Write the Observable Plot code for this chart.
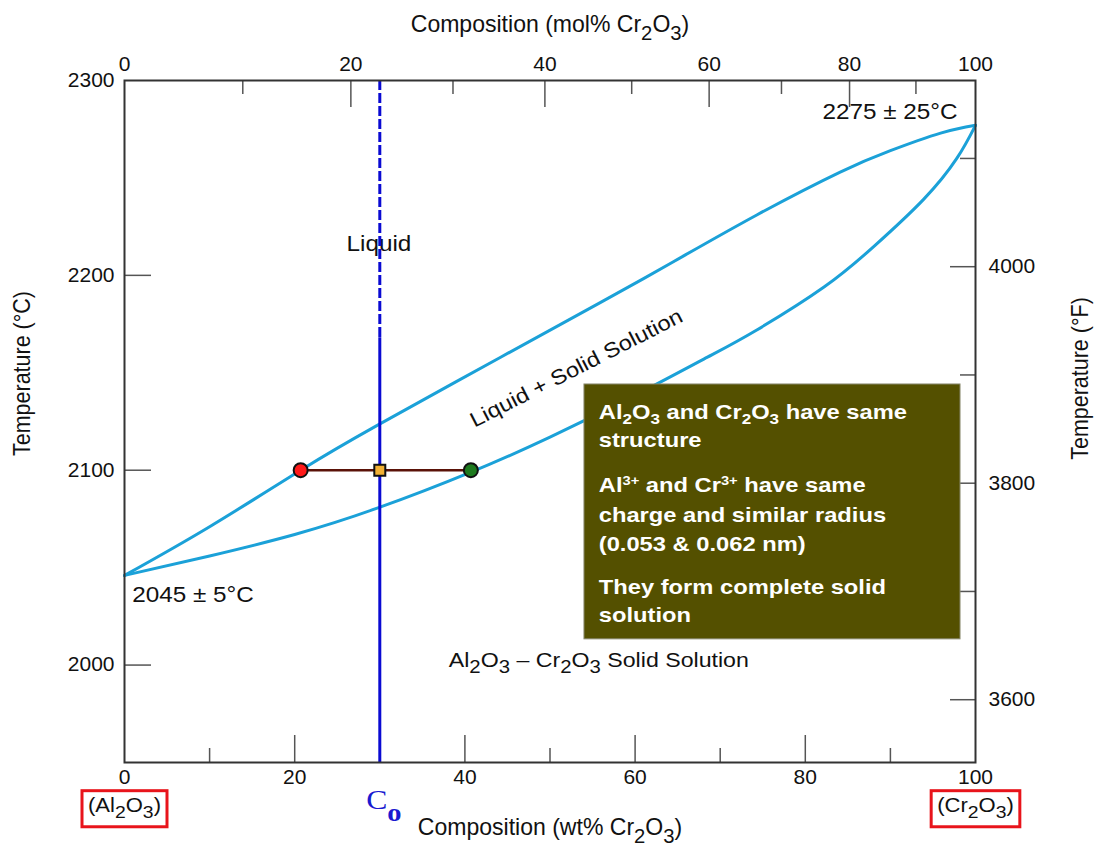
<!DOCTYPE html>
<html><head><meta charset="utf-8">
<script src="https://cdn.jsdelivr.net/npm/d3@7"></script>
<script src="https://cdn.jsdelivr.net/npm/@observablehq/plot@0.6"></script>
<style>
html,body{margin:0;padding:0;background:#fff;}
#chart svg{display:block;}
</style></head>
<body><div id="chart"></div>
<script>
// ---- data ----
const liquidusWt = [0, 10, 20.7, 29.7, 44.2, 55.9, 64.5, 74.3, 84.1, 90.0, 95.9, 100];
const liquidusT  = [2046, 2071, 2100, 2123, 2158, 2186, 2207, 2231, 2253, 2264, 2273, 2277];
const solidusWt  = [0, 10, 20, 29.7, 40.7, 50, 59.8, 68.5, 74.3, 82.2, 88.1, 93.9, 97.8, 100];
const solidusT   = [2046, 2056, 2067, 2080.5, 2099, 2117, 2138, 2158, 2172, 2194, 2215, 2239, 2260, 2277];
const Co = 30;
const coDashEnd = 2168;
const tieWt = [20.7, 40.7];
const tieT = 2100;
const wtMajor = [0, 20, 40, 60, 80, 100];
const wtMinor = [10, 30, 50, 70, 90];
const molLabels = [0, 20, 40, 60, 80, 100];
const molLabelWt = [0, 26.6, 49.4, 68.7, 85.2, 100];
const molMinorWt = [13.9, 38.6, 59.6, 77.2, 93.0];
const tempCTicks = [2000, 2100, 2200, 2300];
const tempFTicks = [3600, 3700, 3800, 3900, 4000, 4100];
const tempFLabels = [3600, 3800, 4000];
const boxLines = [
  "Al_s{2}O_s{3} and Cr_s{2}O_s{3} have same",
  "structure",
  "Al^{3+} and Cr^{3+} have same",
  "charge and similar radius",
  "(0.053 & 0.062 nm)",
  "They form complete solid",
  "solution"
];
const boxLineT = [2129.8, 2115.3, 2092.2, 2076.8, 2062.2, 2040.0, 2025.4];

// ---- derived tables ----
const toC = f => (f - 32) * 5 / 9;
const liq = liquidusWt.map((w, i) => ({w, t: liquidusT[i]}));
const sol = solidusWt.map((w, i) => ({w, t: solidusT[i]}));
const boxData = boxLines.map((s, i) => ({s, t: boxLineT[i]}));

const W = 1095, H = 850, mL = 124, mR = 120, mT = 80, mB = 88;
const innerW = W - mL - mR, innerH = H - mT - mB;
const SANS = "'Liberation Sans', Arial, Helvetica, sans-serif";
const tickCol = "#555";
const curveCol = "#1ba1d8";
const ann = 21.5;

const plot = Plot.plot({
  width: W, height: H,
  marginLeft: mL, marginRight: mR, marginTop: mT, marginBottom: mB,
  x: {domain: [0, 100]},
  y: {domain: [1950, 2300]},
  style: {fontFamily: SANS, fontSize: "19px", color: "#111", background: "white", overflow: "visible"},
  marks: [
    // ticks (inward)
    Plot.tickX(wtMajor.slice(1, -1), {insetTop: innerH - 27, stroke: tickCol, strokeWidth: 1.5}),
    Plot.tickX(wtMinor, {insetTop: innerH - 14, stroke: tickCol, strokeWidth: 1.5}),
    Plot.tickX(molLabelWt.slice(1, -1), {insetBottom: innerH - 27, stroke: tickCol, strokeWidth: 1.5}),
    Plot.tickX(molMinorWt, {insetBottom: innerH - 14, stroke: tickCol, strokeWidth: 1.5}),
    Plot.tickY(tempCTicks.slice(0, 3), {insetRight: innerW - 27, stroke: tickCol, strokeWidth: 1.5}),
    Plot.tickY(tempFLabels.map(toC), {insetLeft: innerW - 25, stroke: tickCol, strokeWidth: 1.5}),
    Plot.tickY(tempFTicks.filter(f => !tempFLabels.includes(f)).map(toC), {insetLeft: innerW - 15, stroke: tickCol, strokeWidth: 1.5}),
    // axes (labels only)
    Plot.axisX(wtMajor, {anchor: "bottom", tickSize: 0, tickPadding: 7, fontSize: 20, label: null, tickFormat: d => String(d)}),
    Plot.axisX(molLabelWt, {anchor: "top", tickSize: 0, tickPadding: 10, fontSize: 20, label: null,
      tickFormat: d => String(molLabels[molLabelWt.indexOf(d)])}),
    Plot.axisY(tempCTicks, {anchor: "left", tickSize: 0, tickPadding: 10, fontSize: 20, label: null, tickFormat: d => String(d)}),
    Plot.axisY(tempFLabels.map(toC), {anchor: "right", tickSize: 0, tickPadding: 13, fontSize: 20, label: null,
      tickFormat: d => String(Math.round(d * 9 / 5 + 32))}),
    // axis titles
    Plot.text(["Composition (mol% Cr_{2}O_{3})"], {frameAnchor: "top", dy: -66, fontSize: 24}),
    Plot.text(["Composition (wt% Cr_{2}O_{3})"], {frameAnchor: "bottom", dy: 72, fontSize: 24}),
    Plot.text(["Temperature (°C)"], {frameAnchor: "left", textAnchor: "middle", rotate: -90, dx: -102, dy: -48, fontSize: 21.5}),
    Plot.text(["Temperature (°F)"], {frameAnchor: "right", textAnchor: "middle", rotate: -90, dx: 105, dy: -43, fontSize: 21.5}),
    // end-member labels
    Plot.text(["(Al_{2}O_{3})"], {x: [0], frameAnchor: "bottom", dy: 49, fontSize: 19.5}),
    Plot.text(["(Cr_{2}O_{3})"], {x: [100], frameAnchor: "bottom", dy: 49, fontSize: 19.5}),
    Plot.text(["C_B{o}"], {x: [Co], frameAnchor: "bottom", dx: 4, dy: 46, fontFamily: "'Liberation Serif', 'Times New Roman', serif", fontSize: 28, fill: "#1a1ad0"}),
    // region labels
    Plot.text(["Liquid"], {x: [29.9], y: [2216], fontSize: ann}),
    Plot.text(["Liquid + Solid Solution"], {x: [53.1], y: [2152.3], rotate: -27, fontSize: 21}),
    Plot.text(["2275 ± 25°C"], {x: [97.9], y: [2283.6], textAnchor: "end", fontSize: ann}),
    Plot.text(["2045 ± 5°C"], {x: [0.9], y: [2035.9], textAnchor: "start", fontSize: ann}),
    Plot.text(["Al_{2}O_{3} – Cr_{2}O_{3} Solid Solution"], {x: [38.1], y: [2002.6], textAnchor: "start", fontSize: 20.5}),
    // curves
    Plot.line(liq, {x: "w", y: "t", curve: "natural", stroke: curveCol, strokeWidth: 3}),
    Plot.line(sol, {x: "w", y: "t", curve: "natural", stroke: curveCol, strokeWidth: 3}),
    // Co line
    Plot.ruleX([Co], {y1: 2300, y2: coDashEnd, stroke: "#0a0ad2", strokeWidth: 3, strokeDasharray: "10,3"}),
    Plot.ruleX([Co], {y1: coDashEnd, y2: 1950, stroke: "#0a0ad2", strokeWidth: 3}),
    // tie line & points
    Plot.line(tieWt.map(w => ({w, t: tieT})), {x: "w", y: "t", stroke: "#5a1208", strokeWidth: 2.5}),
    Plot.dot([tieWt[0]], {x: d => d, y: () => tieT, r: 7, fill: "#ff1a1a", stroke: "#111", strokeWidth: 2}),
    Plot.dot([tieWt[1]], {x: d => d, y: () => tieT, r: 7, fill: "#1e7a1e", stroke: "#111", strokeWidth: 2}),
    Plot.dot([Co], {x: d => d, y: () => tieT, r: 6.2, symbol: "square", fill: "#f2b134", stroke: "#111", strokeWidth: 2}),
    // info box
    Plot.rect([0], {x1: 54.05, x2: 98.24, y1: 2013.2, y2: 2144.0, fill: "#545000", stroke: "#8a8a70", strokeWidth: 1}),
    Plot.text(boxData, {x: () => 55.73, y: "t", text: "s", textAnchor: "start", fill: "white", fontWeight: "bold", fontSize: 21}),
    // frame
    Plot.frame({stroke: "#333", strokeWidth: 2})
  ]
});

document.getElementById("chart").appendChild(plot);

// ---- rich text: subscripts / superscripts ----
const NS = "http://www.w3.org/2000/svg";
const subStyles = {
  "_":  {"font-size": "88%", "baseline-shift": "-0.38em"},
  "_s": {"font-size": "72%", "baseline-shift": "-0.3em"},
  "_B": {"font-size": "90%", "baseline-shift": "-0.5em", "font-weight": "bold"},
  "^":  {"font-size": "62%", "baseline-shift": "0.6em"}
};
function richify(t) {
  const s = t.textContent;
  if (!/[_^][sB]?\{/.test(s)) return;
  while (t.firstChild) t.removeChild(t.firstChild);
  const re = /([_^][sB]?)\{([^}]*)\}/g;
  let last = 0, m;
  const add = (str, attrs) => {
    const sp = document.createElementNS(NS, "tspan");
    sp.textContent = str;
    if (attrs) for (const k in attrs) sp.setAttribute(k, attrs[k]);
    t.appendChild(sp);
  };
  while ((m = re.exec(s))) {
    if (m.index > last) add(s.slice(last, m.index));
    add(m[2], subStyles[m[1]]);
    last = re.lastIndex;
  }
  if (last < s.length) add(s.slice(last));
}
const svg = plot.tagName === "svg" ? plot : plot.querySelector("svg");
svg.querySelectorAll("text").forEach(richify);

// horizontal stretch (the reference picture is slightly widened)
function stretch(t) {
  const c = t.textContent;
  if (c.startsWith("Temperature")) return "scale(1,1.12)";
  if (c.startsWith("Composition")) return "scale(0.96,1)";
  if (/^\d+$/.test(c)) return "scale(1.05,1)";
  return "scale(1.13,1)";
}
svg.querySelectorAll("text").forEach(t => {
  const tr = t.getAttribute("transform");
  if (tr && /translate/.test(tr)) t.setAttribute("transform", tr + " " + stretch(t));
});

// red boxes around end-member labels
const sr = svg.getBoundingClientRect();
svg.querySelectorAll("text").forEach(t => {
  const c = t.textContent;
  if (c === "(Al2O3)" || c === "(Cr2O3)") {
    const b = t.getBoundingClientRect();
    const r = document.createElementNS(NS, "rect");
    r.setAttribute("x", b.left - sr.left - 6);
    r.setAttribute("y", b.top - sr.top - 3);
    r.setAttribute("width", b.width + 12);
    r.setAttribute("height", b.height + 8);
    r.setAttribute("fill", "none");
    r.setAttribute("stroke", "#e8141b");
    r.setAttribute("stroke-width", 3);
    svg.appendChild(r);
  }
});
</script>
</body></html>
